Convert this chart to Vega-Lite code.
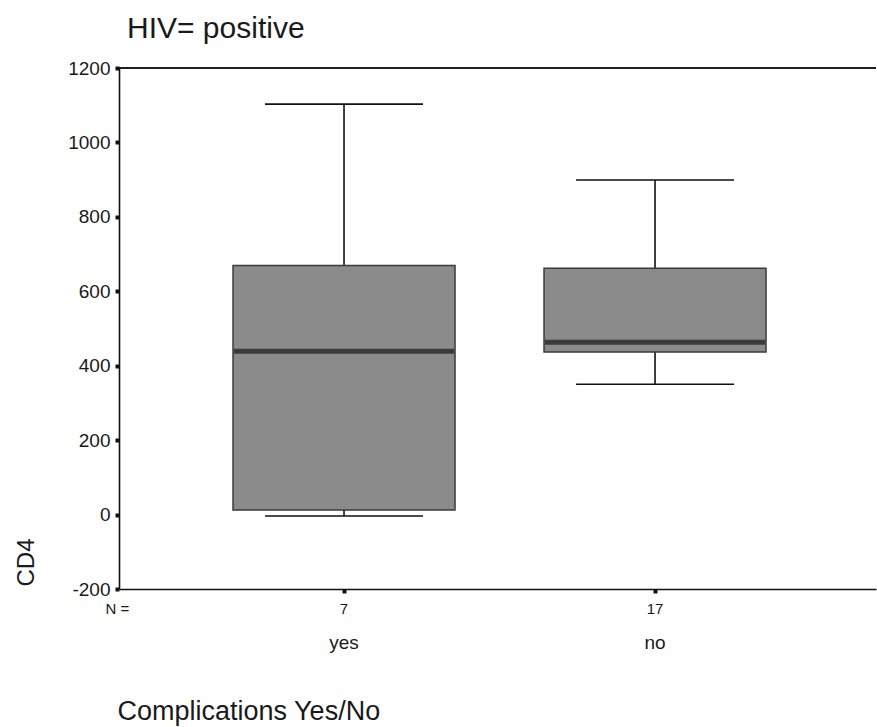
{
  "$schema": "https://vega.github.io/schema/vega-lite/v6.json",
  "autosize": {"type": "none"},
  "padding": {"left": 119, "top": 68, "right": 1, "bottom": 138},
  "width": 757,
  "height": 521,
  "background": "white",
  "config": {
    "view": {"stroke": null},
    "font": "Liberation Sans",
    "axis": {"grid": false}
  },
  "title": {
    "text": "HIV= positive",
    "anchor": "start",
    "frame": "group",
    "dx": 8,
    "offset": -9,
    "baseline": "alphabetic",
    "fontSize": 30,
    "fontWeight": "normal",
    "font": "Liberation Sans",
    "color": "#1a1a1a"
  },
  "data": {
    "values": [
      {"Complications": "yes", "n": 7, "min": -4, "q1": 12, "median": 439, "q3": 669, "max": 1103},
      {"Complications": "no", "n": 17, "min": 350, "q1": 437, "median": 463, "q3": 662, "max": 899}
    ]
  },
  "resolve": {"axis": {"x": "independent"}},
  "layer": [
    {
      "mark": {"type": "rule", "color": "#111", "strokeWidth": 1.6},
      "encoding": {
        "x": {
          "field": "Complications", "type": "nominal", "sort": ["yes", "no"],
          "scale": {"paddingInner": 0, "paddingOuter": 0.217, "align": 0.515},
          "axis": {
            "orient": "bottom",
            "labelAngle": 0,
            "labelFontSize": 19,
            "labelColor": "#1a1a1a",
            "labelPadding": 40,
            "tickSize": 4,
            "tickWidth": 4,
            "tickColor": "#111",
            "domainColor": "#111",
            "domainWidth": 1.6,
            "title": "Complications Yes/No",
            "titleFontSize": 27,
            "titleFontWeight": "normal",
            "titleColor": "#1a1a1a",
            "titleAnchor": "start",
            "titleAlign": "left",
            "titleBaseline": "alphabetic",
            "titleX": -2,
            "titleY": 130
          }
        },
        "y": {
          "field": "min", "type": "quantitative",
          "scale": {"domain": [-200, 1200], "nice": false, "zero": false},
          "axis": {
            "values": [-200, 0, 200, 400, 600, 800, 1000, 1200],
            "labelExpr": "'' + datum.value",
            "labelFontSize": 19,
            "labelColor": "#1a1a1a",
            "labelPadding": 5,
            "tickSize": 4,
            "tickWidth": 4,
            "tickColor": "#111",
            "domainColor": "#111",
            "domainWidth": 1.6,
            "title": "CD4",
            "titleFontSize": 24,
            "titleFontWeight": "normal",
            "titleColor": "#1a1a1a",
            "titleAngle": -90,
            "titleAlign": "center",
            "titleBaseline": "alphabetic",
            "titleX": -86,
            "titleY": 494
          }
        },
        "y2": {"field": "max"}
      }
    },
    {
      "mark": {"type": "bar", "size": 222, "color": "#8b8b8b", "stroke": "#3a3a3a", "strokeWidth": 1.5},
      "encoding": {
        "x": {"field": "Complications", "type": "nominal", "sort": ["yes", "no"], "axis": null},
        "y": {"field": "q1", "type": "quantitative"},
        "y2": {"field": "q3"}
      }
    },
    {
      "mark": {"type": "tick", "size": 220, "thickness": 5, "color": "#3c3c3c", "opacity": 1},
      "encoding": {
        "x": {"field": "Complications", "type": "nominal", "sort": ["yes", "no"], "axis": null},
        "y": {"field": "median", "type": "quantitative"}
      }
    },
    {
      "mark": {"type": "tick", "size": 158, "thickness": 1.6, "color": "#111", "opacity": 1},
      "encoding": {
        "x": {"field": "Complications", "type": "nominal", "sort": ["yes", "no"], "axis": null},
        "y": {"field": "max", "type": "quantitative"}
      }
    },
    {
      "mark": {"type": "tick", "size": 158, "thickness": 1.6, "color": "#111", "opacity": 1},
      "encoding": {
        "x": {"field": "Complications", "type": "nominal", "sort": ["yes", "no"], "axis": null},
        "y": {"field": "min", "type": "quantitative"}
      }
    },
    {
      "mark": {"type": "rule", "color": "#111", "strokeWidth": 1.6},
      "encoding": {"y": {"datum": 1200}}
    },
    {
      "mark": {"type": "text", "fontSize": 15, "color": "#1a1a1a", "baseline": "alphabetic", "dy": 25, "font": "Liberation Sans"},
      "encoding": {
        "x": {
          "field": "Complications", "type": "nominal", "sort": ["yes", "no"],
          "axis": {
            "orient": "bottom",
            "labels": false,
            "ticks": false,
            "domain": false,
            "title": "N =",
            "titleFontSize": 15,
            "titleFontWeight": "normal",
            "titleColor": "#1a1a1a",
            "titleAnchor": "start",
            "titleAlign": "left",
            "titleBaseline": "alphabetic",
            "titleX": -14,
            "titleY": 24
          }
        },
        "y": {"datum": -200},
        "text": {"field": "n", "type": "quantitative"}
      }
    }
  ]
}
